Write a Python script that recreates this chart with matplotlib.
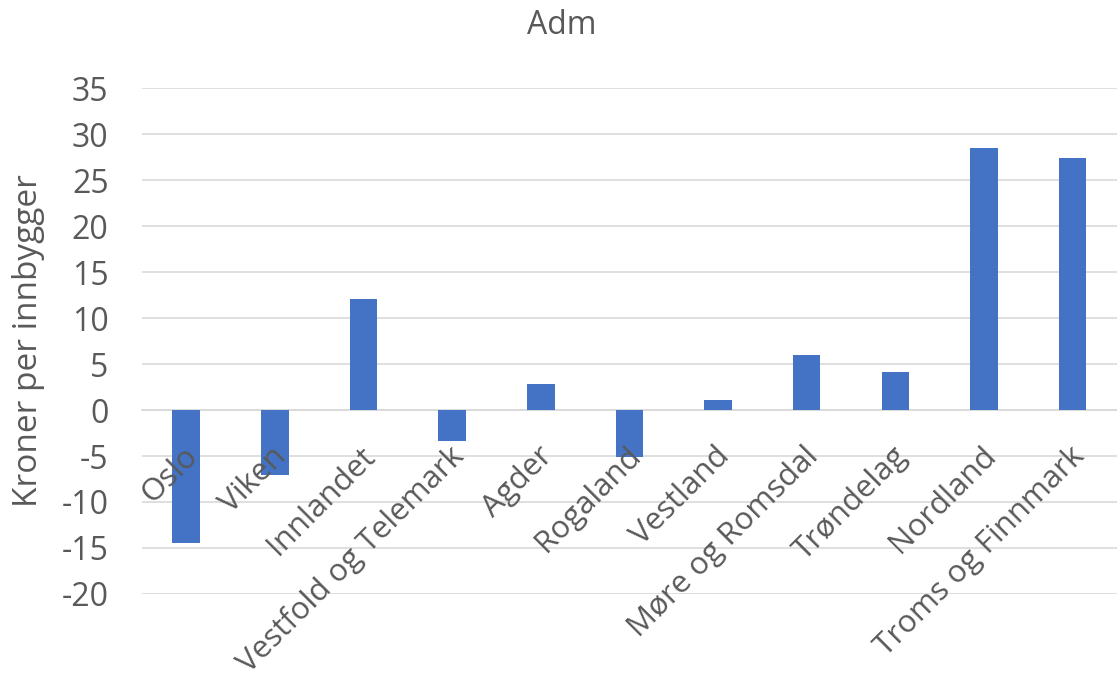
import matplotlib
matplotlib.use("Agg")
import matplotlib.pyplot as plt
from matplotlib.transforms import ScaledTranslation

# Data
regions = ["Oslo", "Viken", "Innlandet", "Vestfold og Telemark", "Agder",
           "Rogaland", "Vestland", "Møre og Romsdal", "Trøndelag",
           "Nordland", "Troms og Finnmark"]
values = [-14.5, -7.1, 12.1, -3.4, 2.8, -5.1, 1.1, 6.0, 4.1, 28.5, 27.4]
yticks = [-20, -15, -10, -5, 0, 5, 10, 15, 20, 25, 30, 35]

text_color = "#595959"
grid_color = "#D9D9D9"
bar_color = "#4472C4"

plt.rcParams['font.family'] = ['Open Sans', 'DejaVu Sans']

fig = plt.figure(figsize=(11.17, 6.8), dpi=100)
ax = fig.add_axes([0.127, 0.1265, 0.873, 0.744])

x = list(range(len(regions)))
ax.bar(x, values, width=0.31, color=bar_color, zorder=3)

ax.set_xlim(-0.5, len(regions) - 0.5)
ax.set_ylim(-20, 35)
ax.set_yticks(yticks)
ax.set_yticklabels([str(t) for t in yticks], fontsize=23, color=text_color)
ax.yaxis.grid(True, color=grid_color, linewidth=1.2, zorder=0)
ax.tick_params(axis='y', length=0, pad=24)

# category axis sits on zero line, labels drawn over bars
for s in ['top', 'right', 'left']:
    ax.spines[s].set_visible(False)
ax.spines['bottom'].set_position(('data', 0))
ax.spines['bottom'].set_color(grid_color)
ax.spines['bottom'].set_linewidth(1.2)
ax.spines['bottom'].set_zorder(1)
ax.set_xticks(x)
ax.set_xticklabels(regions, rotation=45, ha='right', va='center',
                   rotation_mode='anchor', fontsize=22.5, color=text_color)
ax.tick_params(axis='x', length=0, pad=30)
ax.xaxis.set_zorder(4)
shift = ScaledTranslation(7 / 100, 0, fig.dpi_scale_trans)
for lbl in ax.get_xticklabels():
    lbl.set_transform(lbl.get_transform() + shift)

ax.set_ylabel("Kroner per innbygger", fontsize=24, color=text_color, labelpad=12)
fig.text(0.503, 0.963, "Adm", ha='center', va='center', fontsize=23, color=text_color)

plt.savefig("out.png", dpi=100)
